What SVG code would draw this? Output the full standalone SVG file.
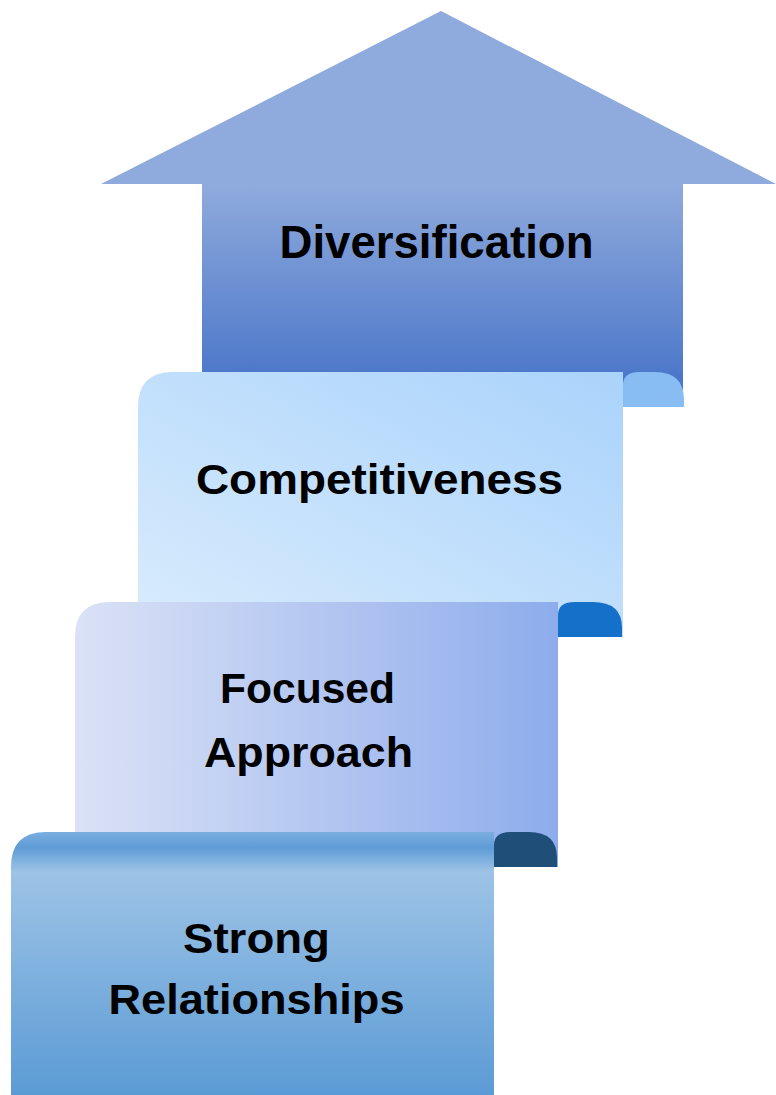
<svg xmlns="http://www.w3.org/2000/svg" width="776" height="1095" viewBox="0 0 776 1095">
<style>
.lbl{font-family:"Liberation Sans",Arial,sans-serif;font-weight:bold;fill:#000;text-anchor:middle;}
</style>
<defs>
<linearGradient id="gArrow" gradientUnits="userSpaceOnUse" x1="0" y1="11" x2="0" y2="390">
<stop offset="0" stop-color="#8faadc"/>
<stop offset="0.46" stop-color="#8faadc"/>
<stop offset="1" stop-color="#4874c8"/>
</linearGradient>
<linearGradient id="gComp" x1="1" y1="0" x2="0" y2="1">
<stop offset="0" stop-color="#aad3fb"/>
<stop offset="1" stop-color="#d9ecfd"/>
</linearGradient>
<linearGradient id="gFoc" x1="0" y1="0" x2="1" y2="0">
<stop offset="0" stop-color="#dbe2f6"/>
<stop offset="1" stop-color="#8eacec"/>
</linearGradient>
<linearGradient id="gStr" gradientUnits="userSpaceOnUse" x1="0" y1="832" x2="0" y2="1095">
<stop offset="0" stop-color="#7aaedf"/>
<stop offset="0.06" stop-color="#5e9cd6"/>
<stop offset="0.15" stop-color="#9dc3e6"/>
<stop offset="1" stop-color="#5b9bd5"/>
</linearGradient>
</defs>

<g id="diversification">
<polygon points="441,11 776,184 683,184 683,390 202,390 202,184 101,184" fill="url(#gArrow)"/>
<text class="lbl" x="436.5" y="258" font-size="47" textLength="314" lengthAdjust="spacingAndGlyphs">Diversification</text>
</g>

<g id="competitiveness">
<path d="M138,637 L138,407 Q138,372 173,372 L623,372 L623,637 Z" fill="url(#gComp)"/>
<path d="M623,407 L623,385 Q623,372 640,372 L655,372 Q684,372 684,400 L684,407 Z" fill="#88bdf4"/>
<text class="lbl" x="379.5" y="494" font-size="42" textLength="367" lengthAdjust="spacingAndGlyphs">Competitiveness</text>
</g>

<g id="focused-approach">
<path d="M75,867 L75,637 Q75,602 110,602 L558,602 L558,867 Z" fill="url(#gFoc)"/>
<path d="M558,637 L558,615 Q558,602 575,602 L593,602 Q622,602 622,628 L622,637 Z" fill="#1470c8"/>
<text class="lbl" x="307.5" y="703" font-size="43" textLength="175" lengthAdjust="spacingAndGlyphs">Focused</text>
<text class="lbl" x="308.5" y="767" font-size="43" textLength="209" lengthAdjust="spacingAndGlyphs">Approach</text>
</g>

<g id="strong-relationships">
<path d="M11,1095 L11,867 Q11,832 46,832 L494,832 L494,1095 Z" fill="url(#gStr)"/>
<path d="M494,867 L494,845 Q494,832 511,832 L529,832 Q557,832 557,858 L557,867 Z" fill="#1f4e79"/>
<text class="lbl" x="256.5" y="953" font-size="43" textLength="147" lengthAdjust="spacingAndGlyphs">Strong</text>
<text class="lbl" x="256.5" y="1014" font-size="43" textLength="296" lengthAdjust="spacingAndGlyphs">Relationships</text>
</g>

<g id="connectors"></g>
</svg>
